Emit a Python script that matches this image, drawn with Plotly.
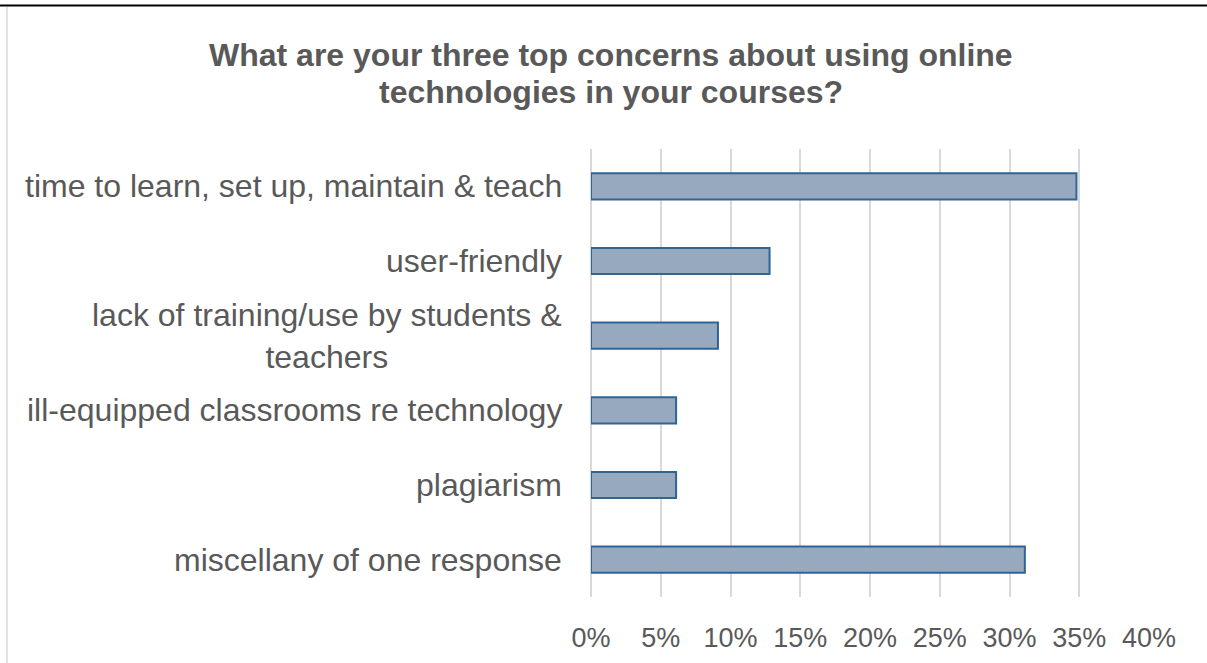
import plotly.graph_objects as go

categories = [
    "time to learn, set up, maintain & teach",
    "user-friendly",
    "lack of training/use by students &<br>teachers",
    "ill-equipped classrooms re technology",
    "plagiarism",
    "miscellany of one response",
]
values = [0.348, 0.128, 0.091, 0.061, 0.061, 0.311]
x_tick_vals = [0, 0.05, 0.10, 0.15, 0.20, 0.25, 0.30, 0.35, 0.40]
x_tick_text = ["0%", "5%", "10%", "15%", "20%", "25%", "30%", "35%", "40%"]
title_lines = [
    "What are your three top concerns about using online",
    "technologies in your courses?",
]

FONT = "Liberation Sans, Arial, sans-serif"
TEXT = "#595959"
W, H = 1207, 663
L, R, T, B = 591, 58, 149, 66
PW = W - L - R
PH = H - T - B


def px_to_paper_x(px):
    return (px - L) / PW


def px_to_paper_y(py):
    return (H - B - py) / PH


fig = go.Figure()
fig.add_trace(go.Bar(
    y=categories, x=values, orientation="h",
    marker=dict(color="#97A9BE", line=dict(color="#2F6494", width=2)),
    width=0.35,
    hoverinfo="skip",
))

annotations = []
for c in categories:
    annotations.append(dict(
        x=0, xref="paper", y=c, yref="y", xanchor="right", yanchor="middle",
        xshift=-27, text=c, showarrow=False, align="center",
        font=dict(family=FONT, size=32, color=TEXT),
    ))

# title, one annotation per line (tighter line spacing than Plotly's default)
title_centers_y = [55, 92]
for line, cy in zip(title_lines, title_centers_y):
    annotations.append(dict(
        x=px_to_paper_x(611), xref="paper", y=px_to_paper_y(cy), yref="paper",
        xanchor="center", yanchor="middle", text=line, showarrow=False,
        font=dict(family=FONT, size=32, color=TEXT, weight="bold"),
    ))

shapes = [
    dict(type="line", xref="paper", yref="paper",
         x0=px_to_paper_x(0), x1=px_to_paper_x(W), y0=px_to_paper_y(5.5), y1=px_to_paper_y(5.5),
         line=dict(color="#000000", width=2)),
    dict(type="line", xref="paper", yref="paper",
         x0=px_to_paper_x(7), x1=px_to_paper_x(7), y0=px_to_paper_y(7), y1=px_to_paper_y(H),
         line=dict(color="#D9D9D9", width=1.5)),
]

fig.update_layout(
    width=W, height=H,
    margin=dict(l=L, r=R, t=T, b=B, autoexpand=False),
    paper_bgcolor="white", plot_bgcolor="white",
    showlegend=False,
    xaxis=dict(range=[0, 0.40], tickvals=x_tick_vals, ticktext=x_tick_text,
               showgrid=True, gridcolor="#D9D9D9", gridwidth=1.5,
               zeroline=True, zerolinecolor="#D9D9D9", zerolinewidth=1.5,
               showline=False, ticks="", ticklabelstandoff=22,
               tickfont=dict(family=FONT, size=27, color=TEXT), fixedrange=True),
    yaxis=dict(categoryorder="array", categoryarray=categories, autorange="reversed",
               showticklabels=False, showgrid=False, zeroline=False, showline=False,
               ticks="", fixedrange=True),
    annotations=annotations,
    shapes=shapes,
    bargap=0.65,
)

fig.write_html(
    "out.html",
    config={"displayModeBar": False},
    post_script="document.body.style.margin='0';document.body.style.overflow='hidden';",
)
